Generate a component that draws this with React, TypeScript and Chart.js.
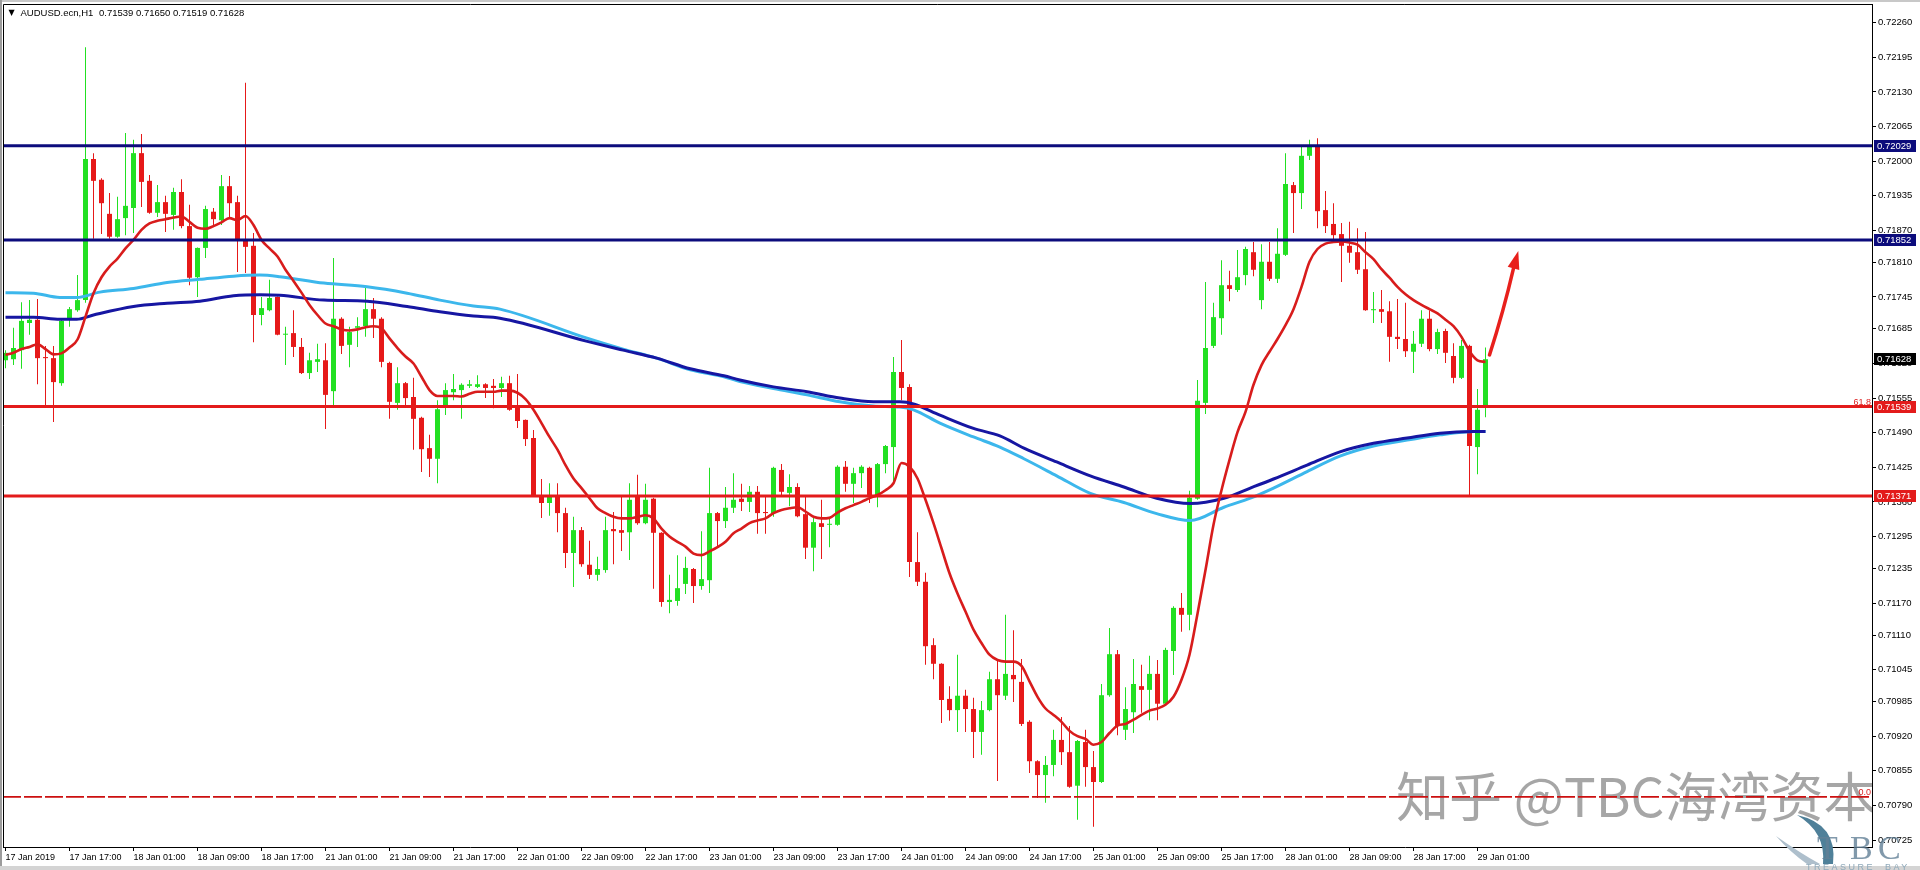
import React, { useEffect, useRef } from 'react';
import { Chart, registerables } from 'chart.js';

Chart.register(...registerables);

// ---------- data (AUDUSD.ecn, H1) ----------
const OPEN = [
  0.71626,0.71628,0.71645,0.71696,0.71702,0.71632,0.71630,0.71583,0.71705,0.71720,
  0.71739,0.72004,0.71965,0.71901,0.71858,0.71893,0.71912,0.72015,0.71963,0.71903,
  0.71923,0.71899,0.71942,0.71878,0.71782,0.71837,0.71905,0.71889,0.71953,0.71923,
  0.71852,0.71841,0.71711,0.71720,0.71745,0.71674,0.71677,0.71651,0.71602,0.71623,
  0.71626,0.71568,0.71704,0.71655,0.71687,0.71690,0.71722,0.71704,0.71621,0.71546,
  0.71583,0.71557,0.71518,0.71461,0.71441,0.71538,0.71566,0.71570,0.71578,0.71576,
  0.71581,0.71578,0.71574,0.71583,0.71538,0.71514,0.71480,0.71371,0.71358,0.71373,
  0.71339,0.71264,0.71307,0.71242,0.71223,0.71232,0.71309,0.71307,0.71303,0.71371,
  0.71320,0.71366,0.71302,0.71172,0.71174,0.71206,0.71234,0.71202,0.71213,0.71339,
  0.71324,0.71349,0.71366,0.71360,0.71379,0.71341,0.71339,0.71420,0.71377,0.71388,
  0.71337,0.71274,0.71320,0.71317,0.71317,0.71426,0.71394,0.71414,0.71424,0.71373,
  0.71431,0.71463,0.71604,0.71576,0.71247,0.71210,0.71091,0.71056,0.70990,0.70969,
  0.70996,0.70971,0.70928,0.70969,0.71027,0.70996,0.71035,0.71022,0.70947,0.70873,
  0.70847,0.70866,0.70913,0.70890,0.70827,0.70909,0.70862,0.70834,0.70997,0.71074,
  0.70932,0.70965,0.71014,0.71007,0.71037,0.70981,0.71080,0.71161,0.71148,0.71366,
  0.71546,0.71653,0.71705,0.71767,0.71758,0.71786,0.71829,0.71739,0.71811,0.71779,
  0.71824,0.71955,0.71940,0.72010,0.72030,0.71908,0.71882,0.71863,0.71841,0.71829,
  0.71797,0.71720,0.71722,0.71718,0.71670,0.71666,0.71642,0.71657,0.71704,0.71647,
  0.71681,0.71634,0.71593,0.71653,0.71463,0.71539,
];
const HIGH = [
  0.71645,0.71687,0.71735,0.71739,0.71741,0.71653,0.71653,0.71704,0.71726,0.71786,
  0.72214,0.72015,0.71968,0.71940,0.71933,0.72053,0.72040,0.72051,0.71974,0.71955,
  0.71935,0.71950,0.71966,0.71918,0.71838,0.71916,0.71912,0.71974,0.71972,0.71935,
  0.72147,0.71865,0.71745,0.71777,0.71746,0.71689,0.71720,0.71668,0.71640,0.71657,
  0.71658,0.71818,0.71707,0.71689,0.71707,0.71764,0.71743,0.71707,0.71623,0.71613,
  0.71585,0.71593,0.71520,0.71486,0.71551,0.71583,0.71600,0.71583,0.71589,0.71598,
  0.71583,0.71591,0.71595,0.71597,0.71600,0.71515,0.71495,0.71403,0.71395,0.71395,
  0.71349,0.71332,0.71313,0.71287,0.71257,0.71332,0.71341,0.71369,0.71395,0.71411,
  0.71394,0.71368,0.71303,0.71223,0.71260,0.71257,0.71236,0.71305,0.71424,0.71341,
  0.71388,0.71414,0.71394,0.71390,0.71390,0.71369,0.71426,0.71431,0.71412,0.71395,
  0.71373,0.71332,0.71364,0.71330,0.71429,0.71437,0.71424,0.71429,0.71426,0.71433,
  0.71467,0.71632,0.71664,0.71581,0.71303,0.71227,0.71104,0.71057,0.71014,0.71073,
  0.71007,0.70992,0.70986,0.71041,0.71063,0.71148,0.71119,0.71065,0.70950,0.70875,
  0.70883,0.70932,0.70956,0.70939,0.70913,0.70932,0.70892,0.71018,0.71123,0.71082,
  0.71012,0.71065,0.71054,0.71071,0.71063,0.71086,0.71164,0.71189,0.71381,0.71589,
  0.71773,0.71734,0.71814,0.71794,0.71833,0.71839,0.71848,0.71844,0.71848,0.71874,
  0.72015,0.71961,0.72027,0.72040,0.72043,0.71944,0.71921,0.71884,0.71886,0.71874,
  0.71867,0.71754,0.71758,0.71737,0.71741,0.71734,0.71681,0.71720,0.71720,0.71685,
  0.71685,0.71658,0.71664,0.71655,0.71572,0.71650,
];
const LOW = [
  0.71611,0.71617,0.71610,0.71674,0.71581,0.71538,0.71510,0.71578,0.71689,0.71717,
  0.71734,0.71854,0.71863,0.71854,0.71856,0.71861,0.71865,0.71914,0.71901,0.71895,
  0.71867,0.71871,0.71874,0.71767,0.71745,0.71818,0.71876,0.71880,0.71895,0.71792,
  0.71790,0.71660,0.71692,0.71718,0.71673,0.71617,0.71632,0.71600,0.71591,0.71604,
  0.71497,0.71538,0.71638,0.71613,0.71651,0.71670,0.71668,0.71613,0.71516,0.71533,
  0.71538,0.71458,0.71416,0.71407,0.71395,0.71523,0.71551,0.71516,0.71574,0.71574,
  0.71555,0.71536,0.71557,0.71531,0.71499,0.71465,0.71369,0.71330,0.71334,0.71303,
  0.71236,0.71200,0.71238,0.71215,0.71212,0.71227,0.71243,0.71268,0.71251,0.71317,
  0.71318,0.71197,0.71163,0.71151,0.71165,0.71187,0.71170,0.71195,0.71189,0.71275,
  0.71311,0.71339,0.71343,0.71341,0.71300,0.71300,0.71332,0.71369,0.71352,0.71331,
  0.71253,0.71230,0.71253,0.71275,0.71315,0.71379,0.71358,0.71386,0.71358,0.71350,
  0.71414,0.71392,0.71551,0.71219,0.71202,0.71054,0.71027,0.70945,0.70949,0.70928,
  0.70928,0.70879,0.70885,0.70967,0.70836,0.70988,0.70984,0.70939,0.70851,0.70804,
  0.70795,0.70845,0.70866,0.70823,0.70763,0.70825,0.70750,0.70832,0.70994,0.70922,
  0.70913,0.70926,0.70964,0.70950,0.70950,0.70977,0.71035,0.71116,0.71119,0.71364,
  0.71525,0.71649,0.71674,0.71737,0.71754,0.71767,0.71784,0.71722,0.71775,0.71771,
  0.71822,0.71865,0.71910,0.72002,0.71874,0.71865,0.71852,0.71773,0.71809,0.71788,
  0.71719,0.71696,0.71696,0.71623,0.71647,0.71632,0.71602,0.71651,0.71643,0.71638,
  0.71621,0.71583,0.71591,0.71371,0.71412,0.71519,
];
const CLOSE = [
  0.71640,0.71649,0.71700,0.71702,0.71630,0.71630,0.71585,0.71700,0.71722,0.71739,
  0.72004,0.71963,0.71921,0.71858,0.71891,0.71916,0.72015,0.71961,0.71903,0.71923,
  0.71901,0.71942,0.71878,0.71781,0.71837,0.71910,0.71891,0.71953,0.71921,0.71852,
  0.71839,0.71711,0.71724,0.71743,0.71674,0.71675,0.71651,0.71602,0.71626,0.71628,
  0.71561,0.71704,0.71653,0.71679,0.71690,0.71722,0.71704,0.71623,0.71548,0.71583,
  0.71555,0.71516,0.71459,0.71441,0.71534,0.71570,0.71572,0.71580,0.71581,0.71581,
  0.71574,0.71574,0.71583,0.71533,0.71512,0.71478,0.71371,0.71358,0.71373,0.71339,
  0.71264,0.71307,0.71243,0.71223,0.71234,0.71307,0.71305,0.71302,0.71364,0.71320,
  0.71364,0.71302,0.71172,0.71176,0.71198,0.71236,0.71202,0.71215,0.71339,0.71324,
  0.71349,0.71364,0.71360,0.71379,0.71339,0.71339,0.71424,0.71379,0.71388,0.71333,
  0.71274,0.71322,0.71313,0.71318,0.71426,0.71394,0.71414,0.71426,0.71369,0.71431,
  0.71465,0.71604,0.71574,0.71247,0.71210,0.71089,0.71056,0.70988,0.70969,0.70996,
  0.70971,0.70928,0.70969,0.71027,0.70997,0.71037,0.71027,0.70943,0.70873,0.70847,
  0.70866,0.70913,0.70890,0.70825,0.70911,0.70862,0.70834,0.70997,0.71074,0.70939,
  0.70971,0.71018,0.71007,0.71037,0.70981,0.71082,0.71161,0.71148,0.71368,0.71550,
  0.71649,0.71707,0.71767,0.71760,0.71782,0.71835,0.71796,0.71811,0.71779,0.71826,
  0.71957,0.71940,0.72010,0.72027,0.71906,0.71878,0.71861,0.71841,0.71828,0.71796,
  0.71720,0.71722,0.71717,0.71670,0.71666,0.71643,0.71657,0.71704,0.71647,0.71679,
  0.71640,0.71593,0.71653,0.71465,0.71533,0.71628,
];

// fast red moving average, one reading per bar
const RED_MA = [
  0.71636,0.71640,0.71647,0.71651,0.71656,0.71647,0.71637,0.71639,0.71650,0.71665,
  0.71708,0.71752,0.71782,0.71802,0.71817,0.71836,0.71852,0.71871,0.71883,0.71888,
  0.71891,0.71894,0.71896,0.71886,0.71875,0.71873,0.71878,0.71885,0.71893,0.71889,
  0.71897,0.71880,0.71852,0.71836,0.71821,0.71796,0.71775,0.71753,0.71730,0.71711,
  0.71695,0.71690,0.71684,0.71682,0.71684,0.71688,0.71690,0.71686,0.71667,0.71649,
  0.71633,0.71620,0.71595,0.71570,0.71559,0.71559,0.71559,0.71558,0.71563,0.71567,
  0.71567,0.71567,0.71569,0.71569,0.71565,0.71553,0.71533,0.71508,0.71482,0.71458,
  0.71429,0.71404,0.71386,0.71367,0.71348,0.71339,0.71332,0.71329,0.71329,0.71332,
  0.71335,0.71329,0.71310,0.71295,0.71285,0.71276,0.71263,0.71260,0.71267,0.71275,
  0.71285,0.71301,0.71310,0.71320,0.71325,0.71329,0.71339,0.71345,0.71348,0.71350,
  0.71342,0.71332,0.71329,0.71330,0.71340,0.71348,0.71354,0.71360,0.71367,0.71373,
  0.71382,0.71395,0.71433,0.71426,0.71404,0.71364,0.71320,0.71273,0.71226,0.71188,
  0.71154,0.71120,0.71095,0.71073,0.71063,0.71060,0.71060,0.71052,0.71023,0.70994,
  0.70972,0.70960,0.70947,0.70930,0.70920,0.70915,0.70904,0.70909,0.70926,0.70940,
  0.70943,0.70951,0.70960,0.70968,0.70972,0.70979,0.70994,0.71026,0.71073,0.71150,
  0.71232,0.71317,0.71382,0.71439,0.71491,0.71529,0.71580,0.71617,0.71642,0.71666,
  0.71692,0.71722,0.71764,0.71811,0.71835,0.71845,0.71848,0.71849,0.71847,0.71843,
  0.71829,0.71816,0.71797,0.71781,0.71764,0.71750,0.71739,0.71730,0.71722,0.71714,
  0.71702,0.71690,0.71670,0.71643,0.71626,0.71623,
];

// slow moving averages, read at the bar positions listed
const LIGHT_MA_BARS = [0, 3.5, 6.8, 8.9, 11.8, 16, 20.2, 24.3, 28.5, 31.8, 34.3, 39.8, 45.2, 50.2, 54.3, 58.5, 61.8, 72.6, 77.2, 81.4, 85.6, 89.8, 91.8, 96, 100.2, 104.3, 108.5, 111.8, 113.5, 116.8, 121, 124.3, 127.3, 131.4, 135.6, 139.8, 143.9, 148.1, 152.3, 155.6, 158.5, 162.7, 166.8, 171, 175.2, 179.3, 183.5, 185];
const LIGHT_MA = [0.71753, 0.71752, 0.71744, 0.71744, 0.71754, 0.71761, 0.71772, 0.71778, 0.71784, 0.71786, 0.71783, 0.71771, 0.71764, 0.71752, 0.71739, 0.71728, 0.71722, 0.71668, 0.71647, 0.71630, 0.71608, 0.71595, 0.71586, 0.71573, 0.71561, 0.71548, 0.71540, 0.71538, 0.71533, 0.71508, 0.71482, 0.71463, 0.71441, 0.71409, 0.71376, 0.71359, 0.71338, 0.71325, 0.71350, 0.71367, 0.71386, 0.71417, 0.71446, 0.71465, 0.71476, 0.71486, 0.71492, 0.71492];
const DARK_MA_BARS = [0, 3.5, 6.8, 8.9, 11, 16, 20.2, 24.3, 28.5, 31.8, 34.3, 39.8, 45.2, 50.2, 54.3, 58.5, 61.8, 72.6, 77.2, 81.4, 85.6, 89.8, 91.8, 96, 100.2, 104.3, 108.5, 111.8, 113.5, 116.8, 121, 124.3, 127.3, 131.4, 135.6, 139.8, 143.9, 148.1, 152.3, 155.6, 158.5, 162.7, 166.8, 171, 175.2, 179.3, 183.5, 185];
const DARK_MA = [0.71707, 0.71707, 0.71703, 0.71703, 0.71711, 0.71727, 0.71733, 0.71737, 0.71747, 0.71749, 0.71748, 0.71739, 0.71737, 0.71727, 0.71717, 0.71709, 0.71705, 0.71662, 0.71645, 0.71630, 0.71610, 0.71597, 0.71589, 0.71576, 0.71567, 0.71555, 0.71548, 0.71548, 0.71544, 0.71523, 0.71498, 0.71484, 0.71461, 0.71435, 0.71409, 0.71388, 0.71367, 0.71357, 0.71367, 0.71386, 0.71403, 0.71429, 0.71454, 0.71470, 0.71480, 0.71489, 0.71492, 0.71492];

// horizontal levels
const NAVY_LEVELS = [0.72029, 0.71852];
const RED_LEVELS = [0.71539, 0.71371];
const FIB_ZERO = 0.70806;
const CURRENT_PRICE = 0.71628;
const ARROW_START = [185.5, 0.71636];
const ARROW_END = [189.1, 0.71831];

// axes
const DATE_TICK_BARS = [0, 8, 16, 24, 32, 40, 48, 56, 64, 72, 80, 88, 96, 104, 112, 120, 128, 136, 144, 152, 160, 168, 176, 184];
const DATE_LABELS = ['17 Jan 2019', '17 Jan 17:00', '18 Jan 01:00', '18 Jan 09:00', '18 Jan 17:00', '21 Jan 01:00', '21 Jan 09:00', '21 Jan 17:00', '22 Jan 01:00', '22 Jan 09:00', '22 Jan 17:00', '23 Jan 01:00', '23 Jan 09:00', '23 Jan 17:00', '24 Jan 01:00', '24 Jan 09:00', '24 Jan 17:00', '25 Jan 01:00', '25 Jan 09:00', '25 Jan 17:00', '28 Jan 01:00', '28 Jan 09:00', '28 Jan 17:00', '29 Jan 01:00'];
const PRICE_TICKS = [0.72260, 0.72195, 0.72130, 0.72065, 0.72000, 0.71935, 0.71870, 0.71810, 0.71745, 0.71685, 0.71620, 0.71555, 0.71490, 0.71425, 0.71360, 0.71295, 0.71235, 0.71170, 0.71110, 0.71045, 0.70985, 0.70920, 0.70855, 0.70790, 0.70725];
const X_MIN = -0.3125;
const X_MAX = 233.3125;
const Y_MIN = 0.707119;
const Y_MAX = 0.722951;

const TITLE_SYMBOL = 'AUDUSD.ecn,H1';
const TITLE_VALUES = '0.71539 0.71650 0.71519 0.71628';
const WATERMARK = '知乎 @TBC海湾资本';

const BULL = '#22e022';
const BEAR = '#e61919';
const FONT = "'Liberation Sans', Arial, sans-serif";

const overlayPlugin = {
  id: 'mtOverlay',
  beforeDraw(chart: any) {
    const ctx = chart.ctx;
    ctx.save();
    ctx.fillStyle = '#ffffff';
    ctx.fillRect(0, 0, chart.width, chart.height);
    ctx.fillStyle = '#d4d4d4';
    ctx.fillRect(0, 866, chart.width, 4);
    ctx.fillStyle = '#c8c8c8';
    ctx.fillRect(0, 0, chart.width, 2);
    ctx.fillStyle = '#9c9c9c';
    ctx.fillRect(0, 0, 2, 866);
    ctx.restore();
  },
  beforeDatasetsDraw(chart: any) {
    const ctx = chart.ctx;
    const a = chart.chartArea;
    ctx.save();
    ctx.beginPath();
    ctx.rect(a.left, a.top, a.right - a.left, a.bottom - a.top);
    ctx.clip();
    ctx.fillStyle = 'rgba(150,150,150,0.85)';
    ctx.font = "53px 'Noto Sans CJK SC', sans-serif";
    ctx.textBaseline = 'alphabetic';
    ctx.textAlign = 'left';
    ctx.fillText(WATERMARK, 1396, 817);
    ctx.restore();
  },
  afterDraw(chart: any) {
    const ctx = chart.ctx;
    const a = chart.chartArea;
    const xs = chart.scales.x;
    const ys = chart.scales.y;
    ctx.save();
    // frame
    ctx.strokeStyle = '#000';
    ctx.lineWidth = 1;
    ctx.beginPath();
    ctx.moveTo(a.left + 0.5, a.bottom);
    ctx.lineTo(a.left + 0.5, a.top + 0.5);
    ctx.lineTo(a.right, a.top + 0.5);
    ctx.stroke();

    // title
    ctx.fillStyle = '#000';
    ctx.font = `8px 'DejaVu Sans', sans-serif`;
    ctx.textBaseline = 'middle';
    ctx.fillText('▼', 8.5, 12.5);
    ctx.font = `9.5px ${FONT}`;
    ctx.fillText(TITLE_SYMBOL, 20.5, 13);
    ctx.fillText(TITLE_VALUES, 99, 13);

    // fib labels
    ctx.fillStyle = '#dd2222';
    ctx.font = `9px ${FONT}`;
    ctx.textAlign = 'right';
    ctx.textBaseline = 'alphabetic';
    ctx.fillText('61.8', a.right - 1, ys.getPixelForValue(RED_LEVELS[0]) - 2);
    ctx.fillText('0.0', a.right - 1, ys.getPixelForValue(FIB_ZERO) - 2);

    // arrow
    const x0 = xs.getPixelForValue(ARROW_START[0]);
    const y0 = ys.getPixelForValue(ARROW_START[1]);
    const x1 = xs.getPixelForValue(ARROW_END[0]);
    const y1 = ys.getPixelForValue(ARROW_END[1]);
    const ang = Math.atan2(y1 - y0, x1 - x0);
    const headLen = 18;
    const headW = 6;
    const bx = x1 - headLen * Math.cos(ang);
    const by = y1 - headLen * Math.sin(ang);
    ctx.strokeStyle = '#e8201c';
    ctx.fillStyle = '#e8201c';
    ctx.lineWidth = 3.5;
    ctx.lineCap = 'round';
    ctx.beginPath();
    ctx.moveTo(x0, y0);
    ctx.quadraticCurveTo((x0 + bx) / 2 + 2, (y0 + by) / 2, bx, by);
    ctx.stroke();
    ctx.beginPath();
    ctx.moveTo(x1, y1);
    ctx.lineTo(bx + headW * Math.sin(ang), by - headW * Math.cos(ang));
    ctx.lineTo(bx - headW * Math.sin(ang), by + headW * Math.cos(ang));
    ctx.closePath();
    ctx.fill();

    // price boxes on the right axis
    const boxes: [number, string][] = [
      [NAVY_LEVELS[0], '#0c0c7c'],
      [NAVY_LEVELS[1], '#0c0c7c'],
      [CURRENT_PRICE, '#000000'],
      [RED_LEVELS[0], '#e31b1b'],
      [RED_LEVELS[1], '#e31b1b'],
    ];
    ctx.font = `9.5px ${FONT}`;
    ctx.textAlign = 'left';
    ctx.textBaseline = 'middle';
    boxes.forEach(([v, bg]) => {
      const y = Math.round(ys.getPixelForValue(v));
      ctx.fillStyle = bg;
      ctx.fillRect(a.right + 2, y - 6, 42, 12);
      ctx.fillStyle = '#ffffff';
      ctx.fillText(v.toFixed(5), a.right + 5, y + 0.5);
    });

    // TBC logo
    ctx.fillStyle = '#4f8099';
    ctx.beginPath();
    ctx.moveTo(1797, 815);
    ctx.quadraticCurveTo(1838, 824, 1833, 864);
    ctx.lineTo(1823, 864);
    ctx.quadraticCurveTo(1826, 832, 1797, 815);
    ctx.closePath();
    ctx.fill();
    ctx.fillStyle = '#aebfcc';
    ctx.beginPath();
    ctx.moveTo(1776, 836);
    ctx.quadraticCurveTo(1800, 853, 1820, 864);
    ctx.lineTo(1807, 864);
    ctx.quadraticCurveTo(1790, 852, 1776, 836);
    ctx.closePath();
    ctx.fill();
    ctx.fillStyle = 'rgba(98,128,150,0.8)';
    ctx.font = "34px 'Liberation Serif', serif";
    ctx.textBaseline = 'alphabetic';
    ctx.fillText('T', 1817, 859);
    ctx.fillText('B', 1850, 859);
    ctx.fillText('C', 1878, 859);
    ctx.fillStyle = '#8fa9ba';
    ctx.font = `9px ${FONT}`;
    (ctx as any).letterSpacing = '2.5px';
    ctx.fillText('TREASURE  BAY', 1806, 870);
    ctx.restore();
  },
};

function hLine(value: number, color: string, width: number, order: number, dash: number[] = []) {
  return {
    type: 'line' as const,
    data: [{ x: X_MIN, y: value }, { x: X_MAX, y: value }],
    borderColor: color,
    borderWidth: width,
    borderDash: dash,
    pointRadius: 0,
    order,
  };
}

export default function App() {
  const ref = useRef<HTMLCanvasElement>(null);

  useEffect(() => {
    document.body.style.margin = '0';
    document.body.style.overflow = 'hidden';
    const colors = OPEN.map((o, i) => (CLOSE[i] >= o ? BULL : BEAR));

    const datasets: any[] = [
      {
        type: 'bar',
        data: LOW.map((l, i) => ({ x: i, y: [l, HIGH[i]] })),
        backgroundColor: colors,
        barThickness: 1,
        grouped: false,
        borderWidth: 0,
        inflateAmount: 0,
        order: 9,
      },
      {
        type: 'bar',
        data: OPEN.map((o, i) => ({ x: i, y: [o, CLOSE[i]] })),
        backgroundColor: colors,
        barThickness: 5,
        grouped: false,
        borderWidth: 0,
        inflateAmount: 0,
        minBarLength: 1,
        order: 8,
      },
      {
        type: 'line',
        data: LIGHT_MA.map((v, i) => ({ x: LIGHT_MA_BARS[i], y: v })),
        borderColor: '#3cb7ec',
        borderWidth: 3,
        pointRadius: 0,
        cubicInterpolationMode: 'monotone',
        order: 7,
      },
      {
        type: 'line',
        data: DARK_MA.map((v, i) => ({ x: DARK_MA_BARS[i], y: v })),
        borderColor: '#1616a2',
        borderWidth: 3,
        pointRadius: 0,
        cubicInterpolationMode: 'monotone',
        order: 6,
      },
      {
        type: 'line',
        data: RED_MA.map((v, i) => ({ x: i, y: v })),
        borderColor: '#d81c1c',
        borderWidth: 2.6,
        pointRadius: 0,
        cubicInterpolationMode: 'monotone',
        order: 5,
      },
      hLine(FIB_ZERO, '#cc1010', 1.6, 4, [18, 3]),
      hLine(RED_LEVELS[0], '#e31b1b', 3, 3),
      hLine(RED_LEVELS[1], '#e31b1b', 3, 3),
      hLine(NAVY_LEVELS[0], '#0c0c7c', 3, 2),
      hLine(NAVY_LEVELS[1], '#0c0c7c', 3, 2),
    ];

    const chart = new Chart(ref.current as HTMLCanvasElement, {
      type: 'bar',
      data: { datasets },
      options: {
        animation: false,
        responsive: false,
        devicePixelRatio: 1,
        events: [],
        layout: { padding: { left: 3, top: 4, right: 0, bottom: 0 } },
        plugins: { legend: { display: false }, tooltip: { enabled: false }, title: { display: false } },
        scales: {
          x: {
            type: 'linear',
            min: X_MIN,
            max: X_MAX,
            offset: false,
            grid: { display: true, drawOnChartArea: false, drawTicks: true, tickLength: 4, color: '#000', offset: false },
            border: { display: true, color: '#000', width: 1 },
            ticks: {
              autoSkip: false,
              maxRotation: 0,
              minRotation: 0,
              align: 'start',
              padding: 1,
              color: '#000',
              font: { family: FONT, size: 9 },
              callback: (_v: any, i: number) => DATE_LABELS[i],
            },
            afterBuildTicks: (s: any) => {
              s.ticks = DATE_TICK_BARS.map((v) => ({ value: v }));
            },
            afterFit: (s: any) => {
              s.height = 23;
              s.paddingLeft = 0;
              s.paddingRight = 0;
            },
          },
          y: {
            type: 'linear',
            position: 'right',
            min: Y_MIN,
            max: Y_MAX,
            grid: { display: true, drawOnChartArea: false, drawTicks: true, tickLength: 4, color: '#000' },
            border: { display: true, color: '#000', width: 1 },
            ticks: {
              autoSkip: false,
              padding: 2,
              color: '#000',
              font: { family: FONT, size: 9.5 },
              callback: (v: any) => Number(v).toFixed(5),
            },
            afterBuildTicks: (s: any) => {
              s.ticks = PRICE_TICKS.map((v) => ({ value: v }));
            },
            afterFit: (s: any) => {
              s.width = 48;
              s.paddingTop = 0;
              s.paddingBottom = 0;
            },
          },
        },
      } as any,
      plugins: [overlayPlugin],
    });
    return () => chart.destroy();
  }, []);

  return (
    <div style={{ width: 1920, height: 870 }}>
      <canvas ref={ref} width={1920} height={870} style={{ display: 'block', width: 1920, height: 870 }} />
    </div>
  );
}
